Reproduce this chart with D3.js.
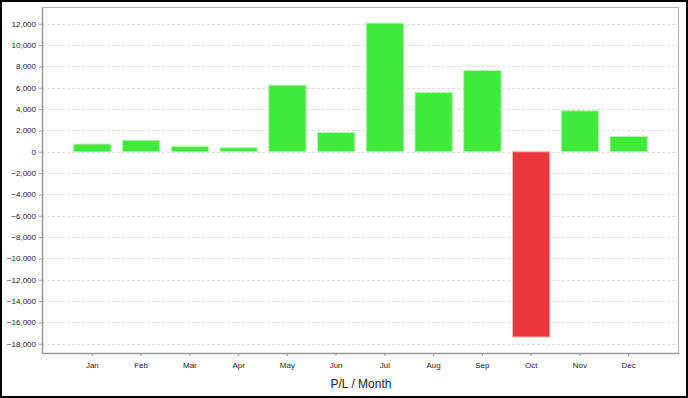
<!DOCTYPE html>
<html>
<head>
<meta charset="utf-8">
<script src="https://cdn.jsdelivr.net/npm/d3@7"></script>
<style>
  body { margin: 0; background: #fff; }
  svg { display: block; font-family: "Liberation Sans", Arial, sans-serif; }
</style>
</head>
<body>
<div id="chart"></div>
<script>
// monthly profit / loss
const months = ["Jan", "Feb", "Mar", "Apr", "May", "Jun", "Jul", "Aug", "Sep", "Oct", "Nov", "Dec"];
const pl = [720, 1070, 500, 375, 6240, 1810, 12060, 5560, 7620, -17370, 3840, 1440];
const yTicks = [-18000, -16000, -14000, -12000, -10000, -8000, -6000, -4000, -2000, 0,
  2000, 4000, 6000, 8000, 10000, 12000];

const width = 688;
const height = 398;
const margin = { top: 7, right: 9, bottom: 45, left: 42 };

const svg = d3.select('#chart')
  .append('svg')
  .attr('width', width)
  .attr('height', height);

// outer frame
svg.append('rect')
  .attr('x', 1).attr('y', 1)
  .attr('width', width - 2).attr('height', height - 2)
  .attr('fill', '#fff')
  .attr('stroke', '#000')
  .attr('stroke-width', 2);

const x = d3.scaleBand()
  .domain(months)
  .range([margin.left, width - margin.right])
  .paddingInner(0.235)
  .paddingOuter(0.65);

const y = d3.scaleLinear()
  .domain([-18870, 13570])
  .range([height - margin.bottom, margin.top]);

// grid lines
svg.append('g')
  .selectAll('line')
  .data(yTicks)
  .enter()
  .append('line')
  .attr('x1', margin.left)
  .attr('x2', width - margin.right)
  .attr('y1', d => Math.round(y(d)) + 0.5)
  .attr('y2', d => Math.round(y(d)) + 0.5)
  .attr('stroke', '#dcdcdc')
  .attr('stroke-dasharray', '3,2');

// plot area frame
svg.append('rect')
  .attr('x', margin.left + 0.5)
  .attr('y', margin.top + 0.5)
  .attr('width', width - margin.left - margin.right - 1)
  .attr('height', height - margin.top - margin.bottom)
  .attr('fill', 'none')
  .attr('stroke', '#b4b4b4');

// bars
svg.append('g')
  .selectAll('rect')
  .data(pl)
  .enter()
  .append('rect')
  .attr('x', (d, i) => x(months[i]))
  .attr('width', x.bandwidth())
  .attr('y', d => y(Math.max(0, d)))
  .attr('height', d => Math.abs(y(d) - y(0)))
  .attr('fill', d => d >= 0 ? '#3fea3b' : '#e9393d')
  .attr('stroke', d => d >= 0 ? '#b6f5b4' : '#f5b4b6')
  .attr('stroke-width', 1);

// y axis
const yAxis = svg.append('g')
  .attr('transform', `translate(${margin.left},0)`)
  .call(d3.axisLeft(y).tickValues(yTicks).tickFormat(d3.format(','))
    .tickSizeInner(3).tickSizeOuter(0).tickPadding(3));

// x axis
const xAxis = svg.append('g')
  .attr('transform', `translate(0,${height - margin.bottom})`)
  .call(d3.axisBottom(x).tickSizeInner(3).tickSizeOuter(0).tickPadding(6));

[yAxis, xAxis].forEach(g => {
  g.select('.domain').attr('stroke', '#999').attr('stroke-width', 1.5);
  g.selectAll('.tick line').attr('stroke', '#999');
  g.selectAll('.tick text')
    .attr('fill', '#222')
    .style('font-size', '8px')
    .style('font-family', '"Liberation Sans", Arial, sans-serif');
});

// axis title
svg.append('text')
  .attr('x', 361)
  .attr('y', 388)
  .attr('text-anchor', 'middle')
  .attr('fill', '#222')
  .style('font-size', '12px')
  .text('P/L / Month');
</script>
</body>
</html>
